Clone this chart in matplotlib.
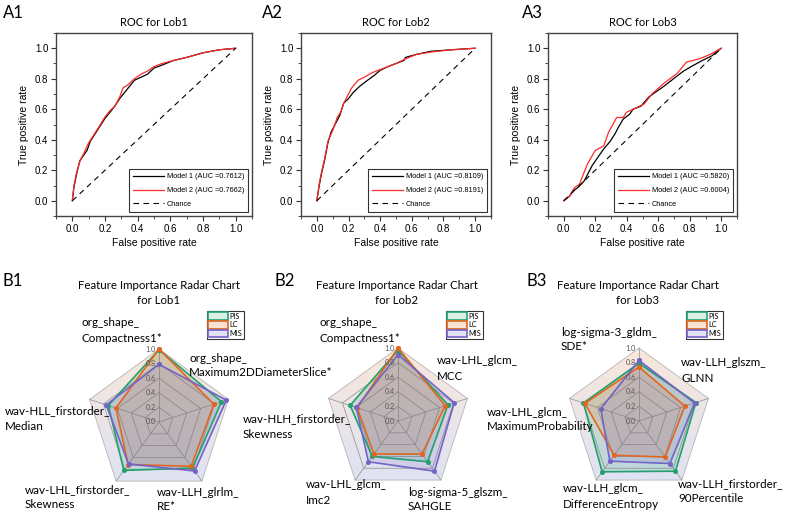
import numpy as np
import matplotlib.pyplot as plt
from matplotlib.patches import Polygon, Patch
from matplotlib.ticker import MultipleLocator

W, H = 786, 521

# ---- ROC data ----
roc_titles = ['ROC for Lob1', 'ROC for Lob2', 'ROC for Lob3']
auc_m1 = ['0.7612', '0.8109', '0.5820']
auc_m2 = ['0.7662', '0.8191', '0.6004']

lob1_m1_fpr = [0, 0.01, 0.025, 0.045, 0.07, 0.09, 0.11, 0.14, 0.17, 0.2, 0.23, 0.26, 0.29, 0.32, 0.35,
               0.38, 0.42, 0.46, 0.5, 0.55, 0.62, 0.7, 0.8, 0.9, 1.0]
lob1_m1_tpr = [0, 0.09, 0.17, 0.26, 0.30, 0.33, 0.39, 0.44, 0.49, 0.54, 0.58, 0.62, 0.67, 0.71, 0.75,
               0.79, 0.81, 0.83, 0.87, 0.89, 0.92, 0.94, 0.97, 0.99, 1.0]
lob1_m2_fpr = [0, 0.01, 0.025, 0.05, 0.07, 0.1, 0.13, 0.16, 0.2, 0.23, 0.26, 0.29, 0.31, 0.34, 0.38,
               0.42, 0.46, 0.5, 0.55, 0.62, 0.7, 0.8, 0.9, 1.0]
lob1_m2_tpr = [0, 0.10, 0.18, 0.27, 0.31, 0.38, 0.43, 0.48, 0.55, 0.59, 0.62, 0.68, 0.74, 0.76, 0.80,
               0.83, 0.85, 0.88, 0.90, 0.92, 0.94, 0.97, 0.99, 1.0]

lob2_m1_fpr = [0, 0.015, 0.03, 0.05, 0.07, 0.09, 0.12, 0.145, 0.17, 0.2, 0.23, 0.27, 0.32, 0.36, 0.4,
               0.45, 0.5, 0.55, 0.56, 0.63, 0.72, 0.85, 1.0]
lob2_m1_tpr = [0, 0.10, 0.18, 0.27, 0.38, 0.45, 0.51, 0.56, 0.64, 0.67, 0.71, 0.75, 0.79, 0.82, 0.855,
               0.88, 0.90, 0.92, 0.94, 0.96, 0.98, 0.99, 1.0]
lob2_m2_fpr = [0, 0.015, 0.03, 0.05, 0.07, 0.1, 0.13, 0.15, 0.17, 0.2, 0.22, 0.26, 0.3, 0.35, 0.4,
               0.45, 0.5, 0.56, 0.63, 0.72, 0.85, 1.0]
lob2_m2_tpr = [0, 0.11, 0.19, 0.28, 0.39, 0.46, 0.55, 0.58, 0.64, 0.70, 0.74, 0.79, 0.81, 0.84, 0.86,
               0.88, 0.90, 0.93, 0.96, 0.975, 0.99, 1.0]

lob3_m1_fpr = [0, 0.037, 0.058, 0.089, 0.13, 0.18, 0.22, 0.254, 0.295, 0.326, 0.346, 0.377, 0.419, 0.44,
               0.49, 0.54, 0.58, 0.635, 0.697, 0.76, 0.82, 0.88, 0.94, 1.0]
lob3_m1_tpr = [0, 0.03, 0.064, 0.086, 0.13, 0.23, 0.29, 0.34, 0.39, 0.44, 0.48, 0.535, 0.568, 0.60,
               0.62, 0.68, 0.71, 0.75, 0.80, 0.85, 0.886, 0.92, 0.95, 1.0]
lob3_m2_fpr = [0, 0.037, 0.068, 0.099, 0.15, 0.2, 0.254, 0.285, 0.336, 0.377, 0.398, 0.46, 0.51, 0.56,
               0.635, 0.72, 0.78, 0.86, 0.93, 1.0]
lob3_m2_tpr = [0, 0.03, 0.086, 0.107, 0.24, 0.33, 0.36, 0.45, 0.546, 0.546, 0.58, 0.61, 0.634, 0.70,
               0.77, 0.835, 0.91, 0.93, 0.96, 1.0]

roc_m1 = [(lob1_m1_fpr, lob1_m1_tpr), (lob2_m1_fpr, lob2_m1_tpr), (lob3_m1_fpr, lob3_m1_tpr)]
roc_m2 = [(lob1_m2_fpr, lob1_m2_tpr), (lob2_m2_fpr, lob2_m2_tpr), (lob3_m2_fpr, lob3_m2_tpr)]

# ---- radar data ----
series = ['PIS', 'LC', 'MIS']
radar_titles = ['Feature Importance Radar Chart\nfor Lob1',
                'Feature Importance Radar Chart\nfor Lob2',
                'Feature Importance Radar Chart\nfor Lob3']
lob1_feats = ['org_shape_\nCompactness1*', 'org_shape_\nMaximum2DDiameterSlice*',
              'wav-LLH_glrlm_\nRE*', 'wav-LHL_firstorder_\nSkewness', 'wav-HLL_firstorder_\nMedian']
lob2_feats = ['org_shape_\nCompactness1*', 'wav-LHL_glcm_\nMCC', 'log-sigma-5_glszm_\nSAHGLE',
              'wav-LHL_glcm_\nImc2', 'wav-HLH_firstorder_\nSkewness']
lob3_feats = ['log-sigma-3_gldm_\nSDE*', 'wav-LLH_glszm_\nGLNN', 'wav-LLH_firstorder_\n90Percentile',
              'wav-LLH_glcm_\nDifferenceEntropy', 'wav-LHL_glcm_\nMaximumProbability']
lob1_pis = [0.99, 0.90, 0.78, 0.82, 0.73]
lob1_lc = [1.00, 0.79, 0.75, 0.72, 0.62]
lob1_mis = [0.79, 0.97, 0.83, 0.71, 0.76]
lob2_pis = [0.97, 0.72, 0.69, 0.60, 0.69]
lob2_lc = [1.00, 0.68, 0.56, 0.56, 0.59]
lob2_mis = [0.91, 0.81, 0.85, 0.69, 0.60]
lob3_pis = [0.79, 0.82, 0.85, 0.86, 0.80]
lob3_lc = [0.74, 0.66, 0.61, 0.58, 0.78]
lob3_mis = [0.83, 0.80, 0.72, 0.68, 0.55]
radar_vals = [(lob1_pis, lob1_lc, lob1_mis), (lob2_pis, lob2_lc, lob2_mis), (lob3_pis, lob3_lc, lob3_mis)]
radar_feats = [lob1_feats, lob2_feats, lob3_feats]

# label anchor positions in pixels (left edge, centre of first line)
label_px = [
    [(81, 323), (189, 358), (157, 492), (25, 490), (5, 411)],
    [(319, 323), (437, 361), (408, 492), (306, 485), (243, 419)],
    [(561, 332), (681, 363), (678, 484), (563, 489), (487, 412)],
]
line_gap = 15

colors = {'PIS': '#23a06e', 'LC': '#e2661e', 'MIS': '#7364c6'}
light = {'PIS': '#dcefe6', 'LC': '#f8e2d2', 'MIS': '#e2e0f2'}

fig = plt.figure(figsize=(W / 100, H / 100), dpi=100)


def px_axes(x0, y0, x1, y1):
    return fig.add_axes([x0 / W, 1 - y1 / H, (x1 - x0) / W, (y1 - y0) / H])


# ---------- ROC panels ----------
roc_boxes = [(56, 33, 252, 216), (301, 33, 491, 216), (548, 33, 737, 216)]
for i in range(3):
    ax = px_axes(*roc_boxes[i])
    ax.plot(roc_m1[i][0], roc_m1[i][1], color='black', lw=0.9,
            label='Model 1 (AUC =' + auc_m1[i] + ')')
    ax.plot(roc_m2[i][0], roc_m2[i][1], color='#ff2a2a', lw=0.9,
            label='Model 2 (AUC =' + auc_m2[i] + ')')
    ax.plot([0, 1], [0, 1], color='black', lw=0.8, ls=(0, (5, 4)), label='Chance')
    ax.set_xlim(-0.1, 1.1)
    ax.set_ylim(-0.1, 1.1)
    ax.xaxis.set_major_locator(MultipleLocator(0.2))
    ax.yaxis.set_major_locator(MultipleLocator(0.2))
    ax.xaxis.set_minor_locator(MultipleLocator(0.1))
    ax.yaxis.set_minor_locator(MultipleLocator(0.1))
    ax.tick_params(which='major', direction='out', length=3.5, width=0.8, labelsize=7,
                   color='#333333', pad=2)
    ax.tick_params(which='minor', direction='out', length=2, width=0.6, color='#333333')
    for s in ax.spines.values():
        s.set_linewidth(1.0)
        s.set_color('#444444')
    for lab in ax.get_xticklabels() + ax.get_yticklabels():
        lab.set_fontfamily('Liberation Sans')
    ax.set_xlabel('False positive rate', fontsize=7.5, family='Liberation Sans', labelpad=3)
    ax.set_ylabel('True positive rate', fontsize=7.5, family='Liberation Sans', labelpad=4)
    ax.set_title(roc_titles[i], fontsize=8, family='Lato', pad=5)
    leg = ax.legend(loc='lower right', prop={'family': 'Liberation Sans', 'size': 5.3},
                    frameon=True, fancybox=False, edgecolor='black', handlelength=4.2,
                    labelspacing=0.9, borderaxespad=0.55, borderpad=0.55, handletextpad=0.3)
    leg.get_frame().set_linewidth(0.8)

# ---------- radar panels ----------
R = 73.0
S = 90.0
centers = [(159, 422), (398, 421), (639, 421)]
title_x = [159, 397, 638]
legend_px = [(207, 311), (446, 311), (686, 311)]
angles = np.deg2rad(90 - 72 * np.arange(5))
ux, uy = np.cos(angles), np.sin(angles)

grad = np.linspace(0, 1, 256)[:, None, None]
top_c = np.array([249, 231, 218]) / 255
bot_c = np.array([220, 226, 246]) / 255
grad_img = top_c * (1 - grad) + bot_c * grad

for i in range(3):
    cx, cy = centers[i]
    ax = px_axes(cx - S, cy - S, cx + S, cy + S)
    lim = S / R
    im = ax.imshow(grad_img, extent=[-1, 1, -1, 1], origin='upper', aspect='auto', zorder=0)
    outer = Polygon(np.column_stack([ux, uy]), closed=True, transform=ax.transData)
    im.set_clip_path(outer)
    # grid rings and spokes
    for r in [0.2, 0.4, 0.6, 0.8, 1.0]:
        ax.plot(np.append(ux, ux[0]) * r, np.append(uy, uy[0]) * r,
                color='#b5b5b5' if r == 1.0 else '#9a9a9a', lw=0.6, zorder=1)
    for k in range(5):
        ax.plot([0, ux[k]], [0, uy[k]], color='#9a9a9a', lw=0.6, zorder=1)
    for r in [0.0, 0.2, 0.4, 0.6, 0.8, 1.0]:
        ax.text(-0.04, r, '%.1f' % r, ha='right', va='center', fontsize=5.2,
                color='#555555', family='Lato', zorder=5)
    # series
    for name, vals in zip(series, radar_vals[i]):
        v = np.array(vals)
        xs, ys = v * ux, v * uy
        ax.fill(xs, ys, color=colors[name], alpha=0.17, lw=0, zorder=2)
        ax.plot(np.append(xs, xs[0]), np.append(ys, ys[0]), color=colors[name], lw=1.2,
                marker='o', ms=2.6, zorder=3)
    ax.set_xlim(-lim, lim)
    ax.set_ylim(-lim, lim)
    ax.axis('off')

    # feature labels, one text per line
    for feat, (lx, ly) in zip(radar_feats[i], label_px[i]):
        for j, line in enumerate(feat.split('\n')):
            fig.text(lx / W, 1 - (ly + j * line_gap) / H, line, ha='left', va='center',
                     fontsize=8.4, family='Lato')
    fig.text(title_x[i] / W, 1 - 293 / H, radar_titles[i], ha='center', va='center',
             fontsize=8.3, family='Lato', linespacing=1.45)
    handles = [Patch(facecolor=light[n], edgecolor=colors[n], lw=1.2, label=n) for n in series]
    lx, ly = legend_px[i]
    leg = fig.legend(handles=handles, loc='upper left', bbox_to_anchor=(lx / W, 1 - ly / H),
                     prop={'family': 'Lato', 'size': 5.3}, frameon=True, fancybox=False,
                     edgecolor='black', handlelength=2.6, handleheight=1.2, labelspacing=0.15,
                     borderpad=0.2, handletextpad=0.3, borderaxespad=0)
    leg.get_frame().set_linewidth(0.8)

# panel letters
for txt, x, y in [('A1', 3, 13), ('A2', 262, 13), ('A3', 522, 13),
                  ('B1', 3, 281), ('B2', 275, 281), ('B3', 526, 281)]:
    fig.text(x / W, 1 - y / H, txt, ha='left', va='center', fontsize=12, family='Lato')

fig.savefig('out.png', dpi=100)
